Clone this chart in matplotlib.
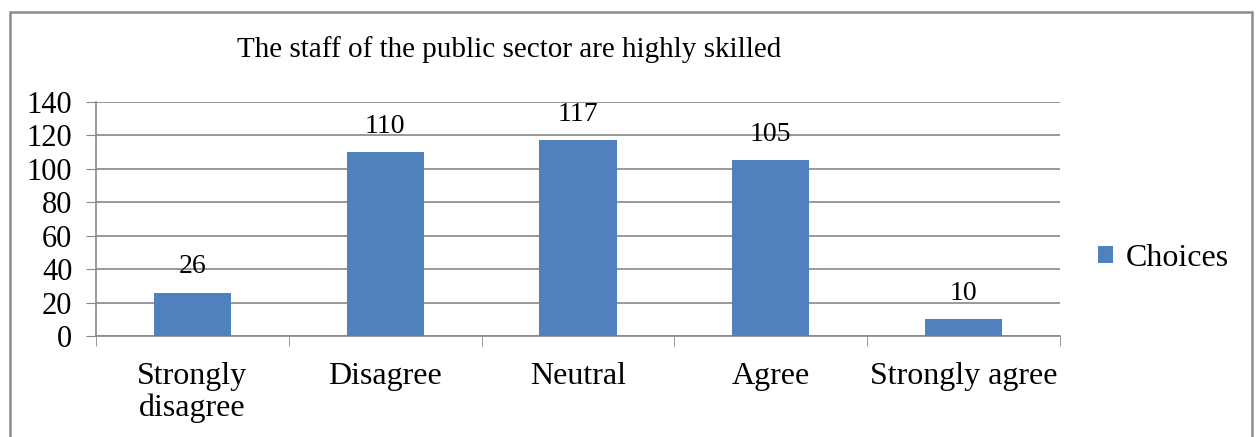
import numpy as np
import matplotlib.pyplot as plt
from matplotlib.patches import Rectangle

categories = ['Strongly\ndisagree', 'Disagree', 'Neutral', 'Agree', 'Strongly agree']
choices = [26, 110, 117, 105, 10]
yticks = [0, 20, 40, 60, 80, 100, 120, 140]

bar_color = '#4F81BD'
grid_color = '#888888'

plt.rcParams['font.family'] = ['Liberation Serif', 'DejaVu Serif']

fig = plt.figure(figsize=(12.58, 4.37), dpi=100)
ax = fig.add_axes([0.0763, 0.2311, 0.7663, 0.5355])

x = np.arange(len(categories))
bars = ax.bar(x, choices, width=0.4, color=bar_color, label='Choices', zorder=3)
for xi, v in zip(x, choices):
    ax.text(xi, v + 8, str(v), ha='center', va='bottom', fontsize=20)

ax.set_xlim(-0.5, len(categories) - 0.5)
ax.set_ylim(0, 140)
ax.set_yticks(yticks)
ax.tick_params(axis='y', labelsize=22, length=7, color=grid_color, pad=10)
ax.yaxis.grid(True, color=grid_color, linewidth=1.2, zorder=0)

ax.set_xticks(x)
ax.set_xticklabels(categories, fontsize=23, linespacing=1.1)
ax.set_xticks(np.arange(len(categories) + 1) - 0.5, minor=True)
ax.tick_params(axis='x', which='major', length=0, pad=19)
ax.tick_params(axis='x', which='minor', length=7, color=grid_color)

for s in ['top', 'right']:
    ax.spines[s].set_visible(False)
for s in ['left', 'bottom']:
    ax.spines[s].set_color(grid_color)
    ax.spines[s].set_linewidth(1.2)

fig.text(0.1885, 0.87, 'The staff of the public sector are highly skilled', fontsize=21,
         ha='left', va='baseline')

ax.legend(loc='center left', bbox_to_anchor=(1.01, 0.33), frameon=False, fontsize=23,
          handlelength=0.45, handleheight=0.45, handletextpad=0.4)

# outer chart frame
fig.patches.append(Rectangle((10 / 1258, -0.05), 1242 / 1258, 1 - 12 / 437 + 0.05,
                             transform=fig.transFigure, fill=False,
                             edgecolor='#8c8c8c', linewidth=1.8))

fig.savefig('out.png', dpi=100)
